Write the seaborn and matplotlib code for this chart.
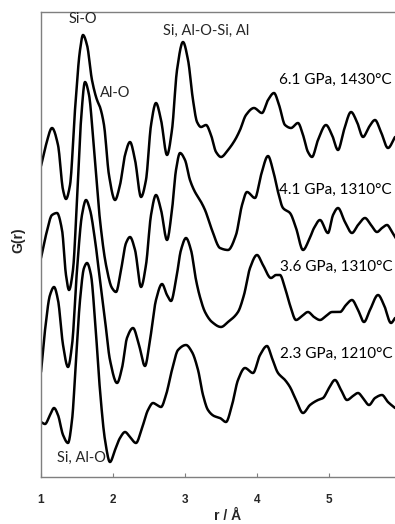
import matplotlib
matplotlib.use("Agg")
import matplotlib.pyplot as plt
import seaborn as sns
import numpy as np
import pandas as pd

# Pair distribution functions G(r), r in Angstrom, one curve per run
r_61 = [1.0, 1.069, 1.153, 1.236, 1.306, 1.347, 1.403, 1.472, 1.542, 1.583, 1.639, 1.708,
        1.778, 1.819, 1.875, 1.944, 2.028, 2.097, 2.167, 2.236, 2.306, 2.389, 2.458, 2.528,
        2.597, 2.667, 2.75, 2.819, 2.889, 2.972, 3.042, 3.111, 3.167, 3.222, 3.292, 3.361,
        3.431, 3.5, 3.597, 3.694, 3.764, 3.847, 3.958, 4.069, 4.153, 4.236, 4.306, 4.389,
        4.472, 4.569, 4.639, 4.708, 4.764, 4.847, 4.958, 5.042, 5.125, 5.208, 5.306, 5.389,
        5.472, 5.556, 5.639, 5.722, 5.819, 5.917]
g_61 = [2.1, 4.2, 5.9, 4.2, -0.3, -1.2, 0.2, 7.7, 13.7, 15.2, 14.2, 10.7,
        8.7, 8.0, 6.2, 1.2, -1.3, 0.2, 3.2, 4.5, 2.7, -1.0, 0.7, 6.2,
        8.4, 6.7, 3.2, 5.7, 11.7, 14.5, 12.7, 8.7, 6.5, 6.0, 6.2, 5.2,
        3.5, 3.0, 3.7, 4.7, 5.7, 7.2, 7.9, 7.4, 8.7, 9.4, 8.2, 6.2,
        5.9, 6.4, 5.2, 3.5, 3.0, 4.7, 6.2, 5.2, 3.7, 5.7, 7.5, 6.5,
        5.0, 6.0, 6.7, 5.5, 3.9, 5.0]

r_41 = [1.0, 1.069, 1.153, 1.222, 1.292, 1.347, 1.389, 1.444, 1.5, 1.556, 1.611, 1.667,
        1.736, 1.819, 1.903, 1.986, 2.042, 2.111, 2.181, 2.236, 2.306, 2.389, 2.458, 2.528,
        2.597, 2.667, 2.75, 2.819, 2.875, 2.931, 3.0, 3.069, 3.139, 3.208, 3.278, 3.375,
        3.486, 3.597, 3.708, 3.792, 3.861, 3.972, 4.056, 4.153, 4.222, 4.292, 4.361, 4.458,
        4.542, 4.639, 4.722, 4.792, 4.875, 4.986, 5.056, 5.125, 5.222, 5.319, 5.403, 5.5,
        5.583, 5.667, 5.736, 5.806, 5.875, 5.944]
g_41 = [1.9, 4.2, 6.2, 6.4, 4.7, 0.2, -1.3, 0.7, 7.7, 15.7, 19.5, 18.2,
        12.7, 5.7, 1.2, -1.1, -1.5, 0.7, 3.4, 4.0, 2.7, -1.0, 1.2, 6.2,
        8.2, 6.7, 3.7, 6.7, 10.7, 12.4, 11.7, 9.7, 8.5, 7.7, 6.7, 4.7,
        2.9, 2.7, 4.2, 7.2, 8.5, 7.9, 10.2, 12.1, 10.7, 8.5, 6.9, 6.4,
        4.9, 2.7, 3.7, 4.9, 5.7, 4.4, 6.2, 6.9, 5.5, 4.4, 5.2, 5.9,
        5.2, 4.5, 4.9, 5.2, 4.5, 3.7]

r_36 = [1.0, 1.056, 1.125, 1.181, 1.236, 1.306, 1.375, 1.431, 1.5, 1.569, 1.625, 1.681,
        1.75, 1.819, 1.889, 1.958, 2.056, 2.125, 2.194, 2.278, 2.361, 2.444, 2.514, 2.597,
        2.681, 2.75, 2.806, 2.875, 2.944, 3.014, 3.083, 3.153, 3.208, 3.278, 3.375, 3.5,
        3.597, 3.736, 3.819, 3.903, 4.0, 4.083, 4.194, 4.264, 4.319, 4.389, 4.458, 4.542,
        4.625, 4.708, 4.792, 4.875, 4.958, 5.042, 5.153, 5.236, 5.319, 5.403, 5.486, 5.569,
        5.681, 5.764, 5.861, 5.917]
g_36 = [0.5, 4.7, 8.2, 9.0, 7.7, 3.2, 1.0, 3.2, 10.7, 16.2, 17.7, 16.7,
        13.7, 9.7, 5.7, 1.7, -0.6, 0.9, 3.9, 4.9, 3.2, 1.1, 3.7, 7.7,
        9.3, 8.2, 7.6, 9.7, 12.7, 13.9, 12.7, 9.7, 8.0, 6.5, 5.5, 5.0,
        5.5, 6.5, 8.2, 10.9, 12.2, 11.2, 9.9, 10.2, 10.2, 8.9, 7.2, 5.7,
        6.1, 6.5, 6.0, 5.7, 6.1, 6.5, 6.5, 7.2, 7.7, 6.7, 5.5, 6.7,
        8.2, 7.2, 5.4, 5.9]

r_23 = [1.0, 1.056, 1.125, 1.181, 1.236, 1.306, 1.375, 1.431, 1.486, 1.542, 1.597, 1.639,
        1.694, 1.75, 1.819, 1.889, 1.958, 2.028, 2.097, 2.167, 2.236, 2.319, 2.403, 2.486,
        2.556, 2.611, 2.667, 2.736, 2.819, 2.903, 3.014, 3.097, 3.181, 3.25, 3.319, 3.403,
        3.486, 3.569, 3.653, 3.736, 3.833, 3.944, 4.042, 4.139, 4.208, 4.292, 4.389, 4.458,
        4.542, 4.639, 4.736, 4.847, 4.917, 5.0, 5.083, 5.167, 5.25, 5.333, 5.403, 5.472,
        5.556, 5.639, 5.736, 5.819, 5.917]
g_23 = [0.5, 0.3, 1.2, 1.9, 1.2, -0.8, -1.6, 0.7, 6.7, 12.7, 15.9, 16.4,
        15.2, 10.7, 3.7, -1.3, -3.5, -2.3, -1.1, -0.5, -1.0, -1.6, -0.1, 1.7,
        2.4, 2.2, 2.0, 3.2, 5.7, 7.7, 8.2, 7.5, 5.7, 3.2, 1.7, 1.1,
        0.9, 0.5, 2.2, 4.7, 5.9, 5.4, 7.2, 8.1, 6.9, 5.4, 4.7, 4.0,
        2.7, 1.4, 2.2, 2.7, 2.9, 3.9, 4.7, 3.7, 2.7, 3.1, 3.4, 2.9,
        2.2, 2.9, 3.2, 2.5, 1.9]

run_labels = ["6.1 GPa, 1430°C", "4.1 GPa, 1310°C", "3.6 GPa, 1310°C", "2.3 GPa, 1210°C"]
stack_offsets = [29.0, 20.0, 10.0, 5.0]
curves = [(r_61, g_61), (r_41, g_41), (r_36, g_36), (r_23, g_23)]


def smooth_path(x, y, per_seg=12):
    """Monotone cubic (Fritsch-Carlson) rendering of a sampled curve."""
    x = np.asarray(x, float)
    y = np.asarray(y, float)
    h = np.diff(x)
    d = np.diff(y) / h
    m = np.zeros_like(y)
    m[0], m[-1] = d[0], d[-1]
    for i in range(1, len(x) - 1):
        if d[i - 1] * d[i] > 0:
            w1 = 2 * h[i] + h[i - 1]
            w2 = h[i] + 2 * h[i - 1]
            m[i] = (w1 + w2) / (w1 / d[i - 1] + w2 / d[i])
    xs, ys = [], []
    t = np.linspace(0, 1, per_seg, endpoint=False)
    for i in range(len(x) - 1):
        h00 = 2 * t**3 - 3 * t**2 + 1
        h10 = t**3 - 2 * t**2 + t
        h01 = -2 * t**3 + 3 * t**2
        h11 = t**3 - t**2
        xs.append(x[i] + t * h[i])
        ys.append(h00 * y[i] + h10 * h[i] * m[i] + h01 * y[i + 1] + h11 * h[i] * m[i + 1])
    xs.append([x[-1]])
    ys.append([y[-1]])
    return np.concatenate(xs), np.concatenate(ys)


sns.set_theme(style="white")
plt.rcParams["font.family"] = ["Lato", "DejaVu Sans"]

fig = plt.figure(figsize=(3.95, 5.24), dpi=100)
ax = fig.add_axes([41 / 395, 47 / 524, 360 / 395, 465 / 524])

for (r, g), off, lab in zip(curves, stack_offsets, run_labels):
    rs, gs = smooth_path(r, [v + off for v in g])
    df = pd.DataFrame({"r": rs, "G": gs})
    sns.lineplot(data=df, x="r", y="G", ax=ax, color="black", linewidth=1.8,
                 estimator=None, sort=False, solid_joinstyle="round",
                 solid_capstyle="round")

ax.set_xlim(1, 6)
ax.set_ylim(0, 46.5)

# run labels and peak assignments
label_pos = [(4.305, 39.7), (4.305, 28.7), (4.319, 21.0), (4.319, 12.3)]
for lab, (x, y) in zip(run_labels, label_pos):
    ax.text(x, y, lab, fontsize=11, ha="left", va="center", color="black")

ax.text(1.583, 45.8, "Si-O", fontsize=10.5, ha="center", va="center")
ax.text(1.819, 38.4, "Al-O", fontsize=10.5, ha="left", va="center")
ax.text(2.694, 44.6, "Si, Al-O-Si, Al", fontsize=10.5, ha="left", va="center")
ax.text(1.556, 1.9, "Si, Al-O", fontsize=10.5, ha="center", va="center")

ax.set_xticks([1, 2, 3, 4, 5])
ax.set_xticklabels(["1", "2", "3", "4", "5"], fontweight="bold",
                   fontfamily="Liberation Sans", fontsize=8.5)
ax.set_yticks([])
ax.tick_params(axis="x", direction="in", length=3, width=0.8, color="#7f7f7f",
               pad=12, bottom=True)

ax.set_xlabel("r / Å", fontweight="bold", fontfamily="Liberation Sans", fontsize=10)
ax.set_ylabel("G(r)", fontweight="bold", fontfamily="Liberation Sans", fontsize=10)
ax.xaxis.set_label_coords((228 - 41) / 360, -0.068)
ax.yaxis.set_label_coords((25 - 41) / 360, 0.51)

for side in ["top", "left", "bottom"]:
    ax.spines[side].set_color("#7f7f7f")
    ax.spines[side].set_linewidth(1.0)
ax.spines["right"].set_visible(False)

fig.savefig("out.png", dpi=100)
